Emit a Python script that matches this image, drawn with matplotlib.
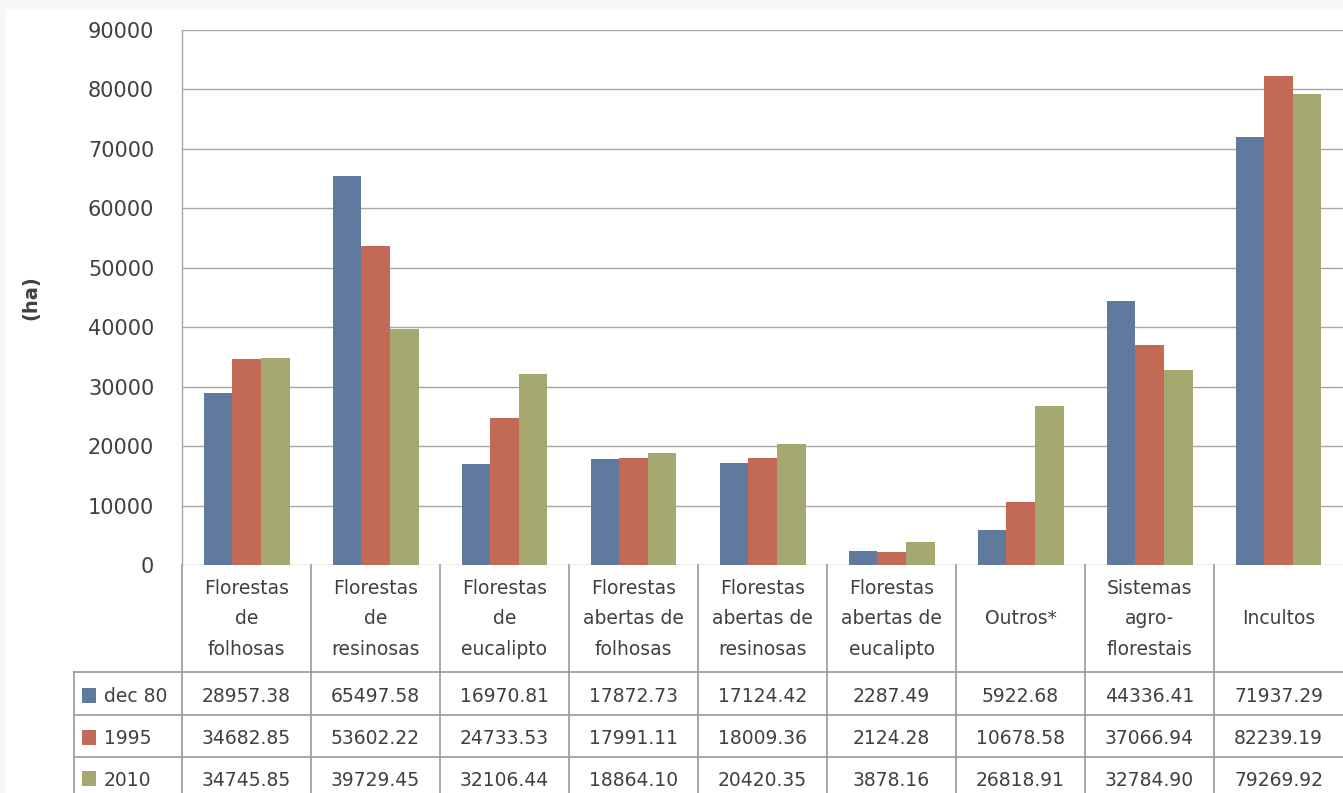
# Recreate the forest area bar chart with data table
import matplotlib.pyplot as plt
from matplotlib.patches import Rectangle

# Data
categories = ['Florestas\nde\nfolhosas', 'Florestas\nde\nresinosas', 'Florestas\nde\neucalipto',
              'Florestas\nabertas de\nfolhosas', 'Florestas\nabertas de\nresinosas',
              'Florestas\nabertas de\neucalipto', 'Outros*', 'Sistemas\nagro-\nflorestais', 'Incultos']
series_names = ['dec 80', '1995', '2010']
dec80 = [28957.38, 65497.58, 16970.81, 17872.73, 17124.42, 2287.49, 5922.68, 44336.41, 71937.29]
y1995 = [34682.85, 53602.22, 24733.53, 17991.11, 18009.36, 2124.28, 10678.58, 37066.94, 82239.19]
y2010 = [34745.85, 39729.45, 32106.44, 18864.10, 20420.35, 3878.16, 26818.91, 32784.90, 79269.92]
yticks = [0, 10000, 20000, 30000, 40000, 50000, 60000, 70000, 80000, 90000]

colors = ['#5f7a9c', '#c26a55', '#a4a86f']
grid_c = '#aaa4a4'
text_c = '#404040'

W, H = 1343, 793
fig = plt.figure(figsize=(W / 100, H / 100), dpi=100)
fig.patch.set_facecolor('#f7f7f7')
fig.add_artist(Rectangle((6 / W, 0), 1, 1 - 10 / H, transform=fig.transFigure,
                         facecolor='white', edgecolor='none', zorder=0))

# plot area in pixels
x0, x1, ytop, ybot = 182, 1343, 30, 565
ax = fig.add_axes([x0 / W, (H - ybot) / H, (x1 - x0) / W, (ybot - ytop) / H])
ax.set_facecolor('none')

n = len(categories)
bw = 1 / 4.5
series = [dec80, y1995, y2010]
for i, vals in enumerate(series):
    xs = [k + 0.5 + (i - 1) * bw for k in range(n)]
    ax.bar(xs, vals, width=bw, color=colors[i], zorder=3)

ax.set_xlim(0, n)
ax.set_ylim(0, 90000)
ax.set_yticks(yticks)
ax.set_yticklabels([str(t) for t in yticks], fontsize=15, color=text_c)
ax.tick_params(axis='y', length=0, pad=20)
ax.set_xticks([])
for y in yticks:
    ax.axhline(y, color=grid_c, lw=1.0, zorder=1)
for s in ['top', 'right', 'bottom']:
    ax.spines[s].set_visible(False)
ax.spines['left'].set_color(grid_c)
ax.spines['left'].set_linewidth(1.0)
fig.text(31 / W, 1 - 298 / H, '(ha)', rotation=90, ha='center', va='center',
         fontsize=14, fontweight='bold', color=text_c)

# table below the plot, in pixel rows
tr = ax.get_xaxis_transform()
ph = ybot - ytop
colw = (x1 - x0) / n


def fy(ypx):
    return (ybot - ypx) / ph


def fx(xpx):
    return (xpx - x0) / colw


line_c = '#a09696'
header_bot = 672
row_lines = [672, 715, 757]
row_centers = [697, 739, 780]
bottom = 800

# vertical lines
for k in range(n):
    ax.plot([k, k], [fy(ybot), fy(bottom)], transform=tr, color=line_c, lw=1.2, clip_on=False)
ax.plot([fx(74), fx(74)], [fy(header_bot), fy(bottom)], transform=tr, color=line_c, lw=1.2, clip_on=False)
# horizontal lines
for yl in row_lines:
    ax.plot([fx(74), n], [fy(yl), fy(yl)], transform=tr, color=line_c, lw=1.2, clip_on=False)

# header labels
for k, lab in enumerate(categories):
    ax.text(k + 0.5, fy(619), lab, transform=tr, ha='center', va='center',
            fontsize=13.5, color=text_c, linespacing=1.75, clip_on=False)

# rows
for i, vals in enumerate(series):
    yc = row_centers[i]
    ax.add_patch(Rectangle((fx(82), fy(yc + 6)), fx(96) - fx(82), fy(yc - 9) - fy(yc + 6),
                           transform=tr, facecolor=colors[i], edgecolor='none', clip_on=False))
    ax.text(fx(104), fy(yc), series_names[i], transform=tr, ha='left', va='center',
            fontsize=13.5, color=text_c, clip_on=False)
    for k, v in enumerate(vals):
        ax.text(k + 0.5, fy(yc), f'{v:.2f}', transform=tr, ha='center', va='center',
                fontsize=13.5, color=text_c, clip_on=False)

fig.savefig('out.png', dpi=100)
